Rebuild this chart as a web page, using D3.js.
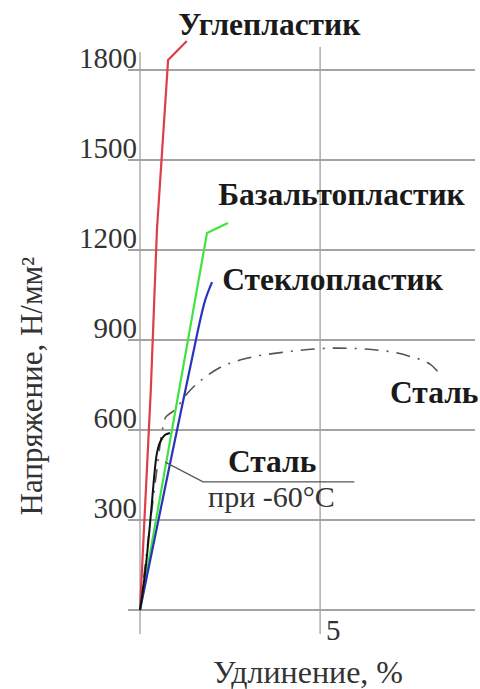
<!DOCTYPE html>
<html><head><meta charset="utf-8">
<script src="https://cdn.jsdelivr.net/npm/d3@7/dist/d3.min.js"></script>
<style>
html,body{margin:0;padding:0;background:#fff;}
svg{display:block;font-family:"Liberation Serif","Times New Roman",serif;}
</style></head>
<body>
<svg id="chart" width="480" height="689"></svg>
<script>
// ---- data (x: elongation %, y: stress N/mm²) ----
const carbonX = [0, 0.30, 0.47, 0.78, 1.30];
const carbonY = [0, 733, 1267, 1833, 1897];
const basaltX = [0, 1.86, 2.44];
const basaltY = [0, 1257, 1290];
const glassX  = [0, 1.61, 1.81, 2.00];
const glassY  = [0, 933, 1033, 1093];
const coldSteelX = [0, 0.14, 0.28, 0.42, 0.47, 0.56, 0.69, 0.83];
const coldSteelY = [0, 123, 290, 477, 523, 560, 583, 590];
const steelX = [0, 0.45, 0.62, 0.70, 0.80, 0.95, 1.30, 2.10, 3.00, 3.90, 5.50, 6.90, 7.50, 8.10, 8.35];
const steelY = [0, 450, 600, 640, 652, 665, 720, 800, 840, 858, 873, 862, 845, 815, 783];

const yTicks = [300, 600, 900, 1200, 1500, 1800];
const yGrid  = [0, 300, 600, 900, 1200, 1500, 1800];
const xTicks = [5];
const xGrid  = [0, 5];

const seriesNames = ["Углепластик", "Базальтопластик", "Стеклопластик", "Сталь", "Сталь"];
const labelX = [1.06, 2.17, 2.28, 6.94, 2.44];
const labelY = [1917, 1350, 1067, 690, 460];
const subLabel = "при -60°С";
const xTitle = "Удлинение, %";
const yTitle = "Напряжение, Н/мм²";

// ---- scales ----
const svg = d3.select("#chart");
const x = d3.scaleLinear().domain([0, 9.3]).range([140, 475]);
const y = d3.scaleLinear().domain([0, 1800]).range([610, 70]);

// grid
svg.append("g").selectAll("line").data(yGrid).join("line")
  .attr("x1", x(0) - 12).attr("x2", x(9.3))
  .attr("y1", d => y(d)).attr("y2", d => y(d))
  .attr("stroke", "#a3a3a3").attr("stroke-width", 2);
svg.append("g").selectAll("line").data(xGrid).join("line")
  .attr("x1", d => x(d)).attr("x2", d => x(d))
  .attr("y1", d => d === 0 ? y(1860) : y(1877)).attr("y2", y(0) + 24)
  .attr("stroke", "#a0a0a0").attr("stroke-width", 1.3);

// tick labels
svg.append("g").selectAll("text").data(yTicks).join("text")
  .attr("x", x(0) - 3).attr("y", d => y(d) - 2)
  .attr("text-anchor", "end").attr("font-size", 29).attr("fill", "#333")
  .text(d => d);
svg.append("g").selectAll("text").data(xTicks).join("text")
  .attr("x", d => x(d) + 6).attr("y", y(0) + 30)
  .attr("text-anchor", "start").attr("font-size", 29).attr("fill", "#333")
  .text(d => d);

// axis titles
svg.append("text").attr("x", 308).attr("y", 683).attr("text-anchor", "middle")
  .attr("font-size", 32).attr("fill", "#333").text(xTitle);
svg.append("text").attr("transform", "translate(42,386) rotate(-90)")
  .attr("text-anchor", "middle").attr("font-size", 31).attr("fill", "#333").text(yTitle);

// lines
const line = d3.line().x(d => x(d[0])).y(d => y(d[1]));
const zip = (a, b) => a.map((v, i) => [v, b[i]]);

svg.append("path").datum(zip(steelX, steelY)).attr("d", line.curve(d3.curveMonotoneX))
  .attr("fill", "none").attr("stroke", "#555").attr("stroke-width", 1.6)
  .attr("stroke-dasharray", "14,8,2,8");
line.curve(d3.curveLinear);
svg.append("path").datum(zip(carbonX, carbonY)).attr("d", line)
  .attr("fill", "none").attr("stroke", "#dd3f4a").attr("stroke-width", 2.2);
svg.append("path").datum(zip(basaltX, basaltY)).attr("d", line)
  .attr("fill", "none").attr("stroke", "#3fe43f").attr("stroke-width", 2.2);
svg.append("path").datum(zip(glassX, glassY)).attr("d", line.curve(d3.curveCatmullRom))
  .attr("fill", "none").attr("stroke", "#2a34bb").attr("stroke-width", 2.2);
svg.append("path").datum(zip(coldSteelX, coldSteelY)).attr("d", line.curve(d3.curveCatmullRom))
  .attr("fill", "none").attr("stroke", "#111").attr("stroke-width", 2);

// leader line for cold steel
const leader = [[0.70, 493], [1.75, 427], [5.95, 427]];
svg.append("path").datum(leader).attr("d", line.curve(d3.curveLinear))
  .attr("fill", "none").attr("stroke", "#555").attr("stroke-width", 1.2);

// labels
svg.append("g").selectAll("text").data(seriesNames).join("text")
  .attr("x", (d, i) => x(labelX[i])).attr("y", (d, i) => y(labelY[i]))
  .attr("font-size", 31.5).attr("font-weight", "bold").attr("fill", "#1a1a1a")
  .text(d => d);
svg.append("text").attr("x", x(1.89)).attr("y", y(345))
  .attr("font-size", 30).attr("fill", "#333").text(subLabel);
</script>
</body></html>
